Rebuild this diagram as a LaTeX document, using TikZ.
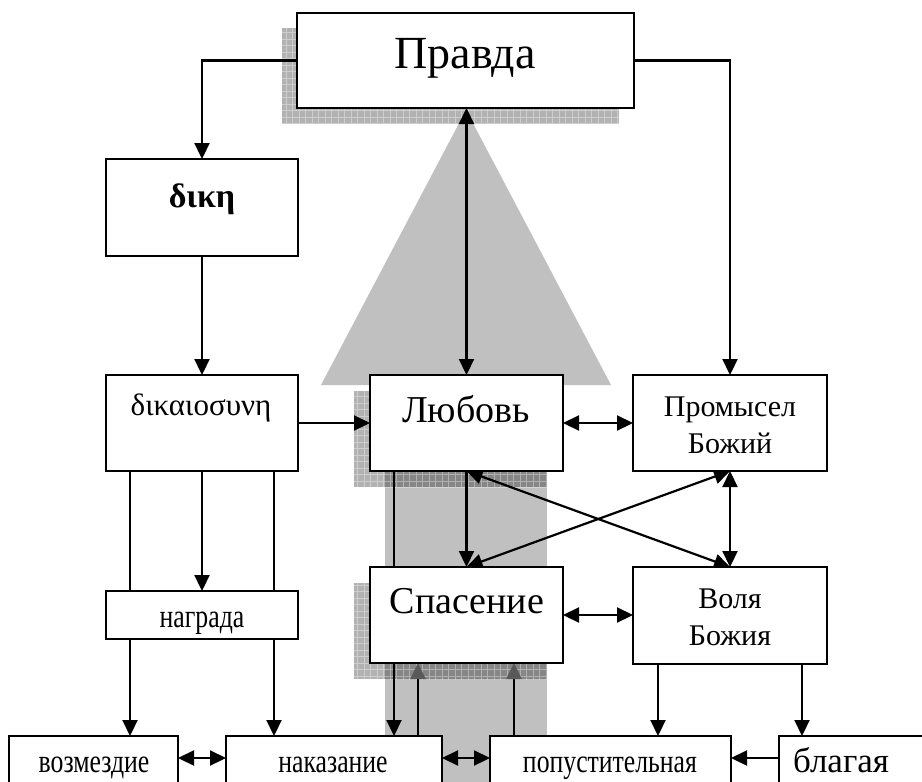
\documentclass[tikz,border=0pt]{standalone}
\usepackage{fontspec}
\setmainfont{Liberation Serif}
\newfontfamily\condfont[FakeStretch=0.78]{Liberation Serif}
\usetikzlibrary{arrows.meta,calc}
\pgfdeclarelayer{bg}
\pgfdeclarelayer{edges}
\pgfsetlayers{bg,edges,main}
\definecolor{silverg}{RGB}{192,192,192}
\newcommand\mkshadow[2]{%
  \begin{scope}
    \clip #1 rectangle #2;
    \fill[black,fill opacity=0.3] #1 rectangle #2;
    \draw[white,draw opacity=0.35,line width=0.6pt,step=6.5pt] (0,800) grid (922,0);
  \end{scope}}
\tikzset{
  box/.style={draw, line width=2.2pt, fill=white, rectangle, inner sep=0pt, outer sep=0pt},
  arr/.style={line width=2.2pt, -{Triangle[length=16pt,width=15pt]}},
  darr/.style={line width=2.2pt, {Triangle[length=16pt,width=15pt]}-{Triangle[length=16pt,width=15pt]}},
  garr/.style={line width=2.2pt, -{Triangle[length=16pt,width=15pt,color=black!65]}},
  huge/.style={font=\fontsize{46}{50}\selectfont},
  large/.style={font=\fontsize{38}{42}\selectfont},
  mid/.style={font=\fontsize{30}{36}\selectfont},
  greekmid/.style={font=\fontsize{31}{34}\selectfont},
  greekbold/.style={font=\fontsize{34}{38}\selectfont\bfseries},
  small/.style={font=\fontsize{33}{36}\condfont},
  smallwide/.style={font=\fontsize{35}{38}\selectfont},
}
\begin{document}
\begin{tikzpicture}[x=1pt,y=-1pt]
\useasboundingbox (0,0) rectangle (922,782);
\clip (0,0) rectangle (922,782);
% boxes
\node[box, minimum width=337, minimum height=95] (pravda) at (465.5,60.5) {};
\node[box, minimum width=192, minimum height=97] (dike) at (202,207.5) {};
\node[box, minimum width=192, minimum height=96] (dikaio) at (202,423) {};
\node[box, minimum width=193, minimum height=96] (love) at (466.5,423) {};
\node[box, minimum width=194, minimum height=96] (prom) at (730,423) {};
\node[box, minimum width=192, minimum height=48] (nagr) at (202,615) {};
\node[box, minimum width=193, minimum height=96] (spas) at (466.5,615) {};
\node[box, minimum width=194, minimum height=97] (volya) at (730,615.5) {};
\node[box, minimum width=169, minimum height=96] (vozm) at (93.5,784) {};
\node[box, minimum width=216, minimum height=96] (nakaz) at (334,784) {};
\node[box, minimum width=241, minimum height=96] (popust) at (610.5,784) {};
\node[box, minimum width=161, minimum height=96] (blag) at (859.5,784) {};
% texts
\node[anchor=base, huge] (tpravda) at (465,68) {Правда};
\node[anchor=base, greekbold] (tdike) at (202,207) {δικη};
\node[anchor=base, greekmid] (tdikaio) at (201,415) {δικαιοσυνη};
\node[anchor=base, large] (tlove) at (466,422) {Любовь};
\node[anchor=base, mid] (tprom1) at (730,416) {Промысел};
\node[anchor=base, mid] (tprom2) at (730,453) {Божий};
\node[anchor=base, mid] (tvol1) at (730,608) {Воля};
\node[anchor=base, mid] (tvol2) at (730,645) {Божия};
\node[anchor=base, large] (tspas) at (467,613) {Спасение};
\node[anchor=base, small] (tnagr) at (202,627) {награда};
\node[anchor=base, small] (tvozm) at (94,772) {возмездие};
\node[anchor=base, small] (tnakaz) at (333,772) {наказание};
\node[anchor=base, small] (tpopust) at (610,772) {попустительная};
\node[anchor=base, smallwide] (tblag) at (841,772) {благая};
% helper coordinates
\coordinate (d1) at ([xshift=-72]dikaio.south);
\coordinate (d3) at ([xshift=72]dikaio.south);
\coordinate (l1) at ([xshift=-72.5]love.south);
\coordinate (s1) at ([xshift=-48.5]spas.south);
\coordinate (s2) at ([xshift=47.5]spas.south);
\coordinate (v1) at ([xshift=-72]volya.south);
\coordinate (v2) at ([xshift=72]volya.south);
\coordinate (yb) at (0,758);
% background
\begin{pgfonlayer}{bg}
  \clip (0,0) rectangle (922,782);
  \fill[silverg] (466,110) -- (611,385) -- (321,385) -- cycle;
  \fill[silverg] (385,440) rectangle (547,800);
  \mkshadow{(282,28)}{(619,124)}
  \mkshadow{(354,391)}{(547,487)}
  \mkshadow{(354,583)}{(547,679)}
\end{pgfonlayer}
% connectors
\begin{pgfonlayer}{edges}
  \clip (0,0) rectangle (922,782);
  \draw[arr] (pravda.west) -| (dike.north);
  \draw[arr] (pravda.east) -| (prom.north);
  \draw[darr] (pravda.south -| love.north) -- (love.north);
  \draw[arr] (dike.south) -- (dikaio.north);
  \draw[arr] (dikaio.east) -- (love.west);
  \draw[darr] (love.east) -- (prom.west);
  \draw[darr] (spas.east) -- (spas.east -| volya.west);
  \draw[arr] (love.south) -- (spas.north);
  \draw[darr] (love.south) -- (volya.north);
  \draw[darr] (spas.north) -- (prom.south);
  \draw[darr] (prom.south) -- (volya.north);
  \draw[arr] (d1) -- (d1 |- vozm.north);
  \draw[arr] (dikaio.south) -- (nagr.north);
  \draw[arr] (d3) -- (d3 |- nakaz.north);
  \draw[arr] (l1) -- (l1 |- nakaz.north);
  \draw[garr] (s1 |- nakaz.north) -- (s1);
  \draw[garr] (s2 |- popust.north) -- (s2);
  \draw[arr] (v1) -- (v1 |- popust.north);
  \draw[arr] (v2) -- (v2 |- blag.north);
  \draw[darr] (vozm.east |- yb) -- (nakaz.west |- yb);
  \draw[darr] (nakaz.east |- yb) -- (popust.west |- yb);
  \draw[arr] (blag.west |- yb) -- (popust.east |- yb);
\end{pgfonlayer}
\end{tikzpicture}
\end{document}
